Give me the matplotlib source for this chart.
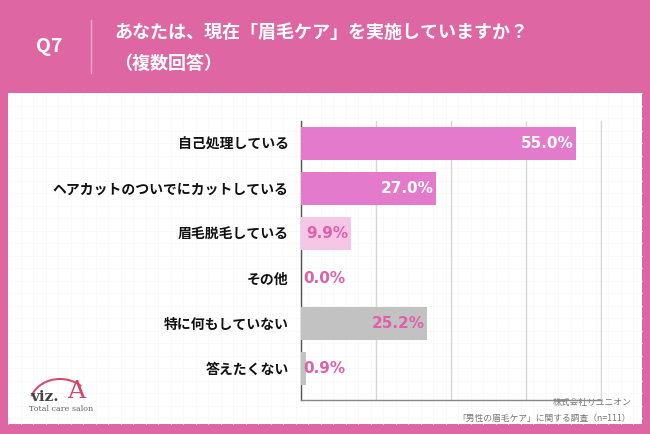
import matplotlib
matplotlib.use("Agg")
import matplotlib.pyplot as plt
from matplotlib.patches import Rectangle, Arc
import numpy as np

plt.rcParams['font.family'] = ['Noto Sans CJK JP', 'DejaVu Sans']

categories = ["自己処理している", "ヘアカットのついでにカットしている", "眉毛脱毛している",
              "その他", "特に何もしていない", "答えたくない"]
values = [55.0, 27.0, 9.9, 0.0, 25.2, 0.9]
bar_colors = ["#E47ACB", "#E47ACB", "#F6C6E6", "#E47ACB", "#C2C2C2", "#C2C2C2"]
label_colors = ["white", "white", "#E05FA8", "#E05FA8", "#E05FA8", "#E05FA8"]
label_inside = [True, True, True, False, True, False]
xticks = [0, 15, 30, 45, 60]

W, H = 650, 434
fig = plt.figure(figsize=(W / 100, H / 100), dpi=100)
fig.patch.set_facecolor("#DE67A3")

def px(x, y):
    return x / W, 1 - y / H

# white panel
bg = fig.add_axes([0, 0, 1, 1], zorder=0)
bg.set_xlim(0, W)
bg.set_ylim(H, 0)
bg.axis("off")
bg.add_patch(Rectangle((8, 93), 634, 331, facecolor="white", edgecolor="none"))
# faint background grid
for gx in np.arange(8, 642, 12.5):
    bg.plot([gx, gx], [93, 424], color="#F7F7F7", lw=0.5, zorder=1)
for gy in np.arange(93, 424, 12.5):
    bg.plot([8, 642], [gy, gy], color="#F7F7F7", lw=0.5, zorder=1)

# header
bg.plot([91, 91], [20, 73], color="#EFA9CB", lw=1.0)
bg.text(49, 47, "Q7", color="white", fontsize=14, fontweight="bold", ha="center", va="center")
bg.text(114, 33, "あなたは、現在「眉毛ケア」を実施していますか？", color="white",
        fontsize=13, fontweight="bold", ha="left", va="center")
bg.text(114, 63, "（複数回答）", color="white", fontsize=13, fontweight="bold",
        ha="left", va="center")

# footer
bg.text(631, 403, "株式会社リユニオン", color="#777777", fontsize=6.3, ha="right", va="center")
bg.text(631, 418, "「男性の眉毛ケア」に関する調査（n=111）", color="#777777", fontsize=6.3,
        ha="right", va="center")

# logo
bg.add_patch(Arc((60, 404), 60, 50, theta1=195, theta2=320, color="#D0506A", lw=1.5))
bg.text(30, 397, "viz.", color="#444444", fontsize=11, family="DejaVu Serif",
        fontweight="bold", ha="left", va="center")
bg.text(67, 391, "A", color="#D24862", fontsize=18, family="DejaVu Serif",
        ha="left", va="center")
bg.text(29, 409, "Total care salon", color="#666666", fontsize=5.8, family="DejaVu Serif",
        ha="left", va="center")

# chart
l, t = px(301, 121)
r, b = px(601, 400)
ax = fig.add_axes([l, b, r - l, t - b], zorder=2)
ax.set_facecolor("none")
y = np.arange(len(categories))
ax.barh(y, values, height=0.72, color=bar_colors, zorder=3)
ax.set_xlim(0, 60)
ax.set_ylim(len(categories) - 0.3, -0.5)
ax.set_xticks(xticks)
ax.xaxis.grid(True, color="#D6D6D6", lw=1.0, zorder=0)
ax.tick_params(axis="x", length=0, labelbottom=False)
ax.tick_params(axis="y", length=0, pad=9)
ax.set_yticks(y)
ax.set_yticklabels(categories, fontsize=10, fontweight="bold", color="#111111")
ax.spines["top"].set_visible(False)
ax.spines["right"].set_color("#D6D6D6")
ax.spines["left"].set_color("#555555")
ax.spines["left"].set_linewidth(1.0)
ax.spines["bottom"].set_color("#888888")
ax.spines["bottom"].set_linewidth(1.0)

for i, (v, c, inside) in enumerate(zip(values, label_colors, label_inside)):
    txt = f"{v:.1f}%"
    if inside:
        ax.text(v - 0.4, i, txt, color=c, fontsize=11, fontweight="bold",
                ha="right", va="center", zorder=4, family="DejaVu Sans")
    else:
        ax.text(0.4, i, txt, color=c, fontsize=11, fontweight="bold",
                ha="left", va="center", zorder=4, family="DejaVu Sans")

fig.savefig("out.png", dpi=100, facecolor=fig.get_facecolor())
